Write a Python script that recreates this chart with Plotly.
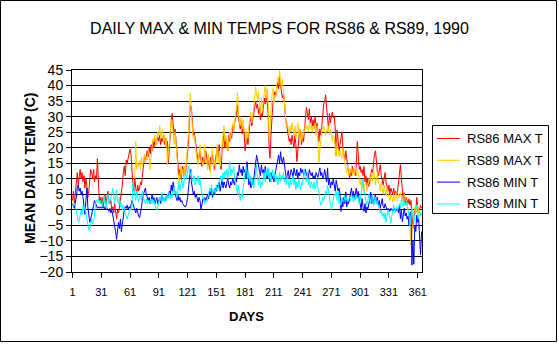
import plotly.graph_objects as go

# ---- data -----------------------------------------------------------------
DAYS = list(range(1, 366))
DAY_TICKS = [1, 31, 61, 91, 121, 151, 181, 211, 241, 271, 301, 331, 361]
Y_TICKS = [-20, -15, -10, -5, 0, 5, 10, 15, 20, 25, 30, 35, 40, 45]

SERIES_NAMES = ["RS86 MAX T", "RS89 MAX T", "RS86 MIN T", "RS89 MIN T"]
SERIES_COLORS = ["#FF0000", "#FFCC00", "#0000FF", "#00FFFF"]

RS86_MAX = [
    3, 6, 2, 5, 9, 12, 8, 11, 13, 10,
    12, 9, 11, 7, 10, 8, 4, 6, 11, 13,
    12, 10, 13, 9, 11, 10, 16.5, 7, 3, 4,
    2, 4, 1, 3, 5, 2, 4, 6, 3, 2,
    3, 0, 1, -1, 2, -2, -3, 0, -1, 1,
    3, 5, 8, 12, 14, 11, 16, 15, 17, 18,
    19.5, 18, 12, 8, 6, 10, 7, 5, 8, 6,
    7, 9, 8, 12, 15, 17, 16, 18, 19, 17,
    20, 18, 21, 19, 22, 20, 23, 21, 22, 23.5,
    22, 24, 21, 23, 22, 24, 21, 23, 20, 22,
    15, 20, 25, 29, 31, 27, 24, 26, 22, 19,
    15, 11, 13, 10, 12, 14, 11, 13, 12, 15,
    18, 22, 30, 33.5, 33, 28, 24, 25, 23, 21,
    18, 15.5, 17, 19, 16, 14, 17, 15, 16, 19,
    17, 14, 16, 13, 17, 15, 18, 16, 13, 16,
    18, 20, 17, 21, 16, 13, 19, 22, 25, 20,
    23, 21, 19, 24, 22, 25, 23, 27, 25, 28,
    29, 31, 33.7, 30, 28, 26, 29, 24.5, 27, 25,
    19, 22, 24, 21, 26, 28, 30, 27, 29, 31,
    33, 35, 32.7, 34, 31, 33, 29, 31, 30, 33,
    36, 34, 37, 35, 31, 20, 16.6, 24, 30, 34,
    36, 38, 37, 40, 41, 39, 43, 40, 38, 36,
    37, 35, 30, 27, 26, 24, 22, 23, 21, 24,
    22, 20, 24, 21, 15.5, 19, 22, 26, 23, 21,
    24, 22, 26, 30, 33, 31, 29, 32.5, 28, 30,
    27, 29, 26, 30, 25, 28, 24, 22, 26, 24,
    27, 31, 34, 35, 37, 33, 29, 26, 31, 28,
    30, 31.5, 29.5, 30, 26, 17.5, 25.7, 22, 19, 21,
    24, 25, 20, 18, 16, 19, 15, 14, 12, 10,
    13, 11, 14, 12, 13, 11, 15, 22, 18, 13,
    14, 12, 13, 11, 14, 9, 11, 8, 10, 7.5,
    9, 11, 13, 12, 16, 18, 19, 14, 12, 11,
    13, 14.5, 11, 9, 8, 10, 12, 9, 7, 6,
    8, 5, 7, 6, 5, 7, 5, 6, 4.7, 6,
    9, 11, 14.6, 10, 5, 3, 5.5, 2, 4, 3,
    2, 3.5, 1.5, 3, -2, -6, -3, 0, -1, 4,
    1, -1, 0, 1.5, 0.5,
]

# RS89 max readings begin on day 66
RS89_MAX = [None] * 65 + [
    10, 22, 13, 15, 14,
    16, 13, 17, 14, 16, 18, 15, 17, 16, 19,
    18, 13, 17, 21, 23, 22, 24, 21, 23, 25,
    24, 27, 23, 25, 26, 22, 24, 21, 23, 14.5,
    18, 23, 26, 29, 28, 24, 21, 25, 19, 17,
    12, 8.5, 10, 14, 11, 13, 10, 14, 12, 16,
    20, 25, 32, 37.5, 31, 27, 23, 24, 21, 19,
    16, 14.5, 18, 21, 17, 15, 14.5, 16, 21, 15,
    16, 13, 18, 15, 12, 17, 20, 14, 16, 13,
    18, 21, 15, 19, 14, 17, 20, 25, 27, 22,
    24, 20, 19, 22, 25, 23, 26, 28, 25, 29,
    30.5, 33, 38, 31, 28, 27, 30, 26, 29, 25,
    26, 22, 25, 23, 27, 29, 31.5, 28, 30, 33,
    36, 39.6, 37, 35, 38, 34, 31, 36, 32, 35,
    38, 40, 36, 39, 35, 23, 26, 32, 37, 39,
    34, 37, 36, 40, 42.5, 41, 45, 41, 39, 42,
    38, 36, 30, 27, 28, 26, 24, 27, 25, 28,
    26, 24, 27, 23, 25, 28, 24, 26, 22, 25,
    23, 26, 25, 28, 26, 27, 25, 28, 26, 27,
    25, 27, 26, 28, 24, 27, 22, 15, 19, 24,
    26, 25, 27, 26, 24, 26, 25, 27, 24, 26,
    25, 22, 24, 23, 19, 17.5, 22, 20, 17, 19,
    18, 16.5, 20, 17, 14, 13, 12, 14.5, 11, 13,
    12, 14, 11, 13, 12, 14, 11, 13, 12, 10,
    8, 10, 7, 9, 6, 8, 9, 6, 7.5, 9,
    11, 10, 12, 9, 13, 11, 8, 10, 12, 9,
    8, 6, 9, 7, 5, 8, 6, 4.5, 7, 5,
    4, 3, 5, 4, 2.5, 5, 3, 5.5, 4, 3,
    5, 4, 5.5, 4, 3, 2.5, 5, 4, 3, 2,
    0, -2, -6, -11.3, -9, -4, -1, 1, -1, 0.5,
    1.5, -1, 0, -1.7, -1,
]

RS86_MIN = [
    2, 1, 0.5, 2.5, 4, 7, 8, 6, 7, 5,
    6, 4, 2, -1.5, 3, 7, 1, -2, -4, -3,
    -1, -0.5, 1.5, 3, 2, 1, 0.5, 1, 0.5, 1,
    0.5, 1, 0.5, 1, 0, 1, 0.5, 0, -0.5, 0.5,
    -1, 0, -1.5, -3, -5, -7, -9.5, -6, -4, -6,
    -3, -7, -4, -1, 0, 1, 0.5, 1.5, 0, 1,
    0.5, 1.5, 3, 2, 1, 0, -1, 0.5, -1.5, -2,
    -2.5, -1, 1, 3, 5, 6, 7, 5, 4, 3,
    4, 2, 3, 5, 3, 4, 2, 3, 4, 2,
    3, 4, 2, 5, 3, 4, 2.5, 4, 3, 5,
    4, 6, 5, 8, 6, 9, 7, 5, 4, 3,
    5, 3, 4, 2.5, 3, 2, 1.5, 1, 1, 2,
    4, 7, 10, 13, 9, 7, 5, 6, 4, 5,
    3, 2.5, 4, 3, 0, 2, 3.5, 3, 4, 3,
    4, 5, 3.5, 6, 5, 7, 4, 6, 5, 7,
    6, 8, 7, 9, 6, 8, 10, 7, 9, 8,
    7, 9, 10, 8, 7, 9, 8, 10, 9, 8,
    10, 9, 12, 11, 14.5, 12, 13, 11, 14, 12,
    13, 10, 15.5, 11, 8, 10, 7, 9, 8, 10,
    12, 15, 17.6, 16, 14, 13, 11, 14.5, 12, 13,
    11, 14, 12, 10, 13, 11, 9, 12, 10, 11,
    9, 11, 13, 15, 16, 17.6, 15, 18.7, 16, 15,
    17, 14.5, 12, 10, 11, 12.7, 10, 11, 13, 12,
    10, 13.5, 12, 11, 13, 10, 12, 11, 13.4, 12,
    13, 11, 12, 13, 11, 12, 10, 13, 12, 11,
    12, 10, 11, 10, 12, 11, 10.5, 12, 13.5, 11,
    12, 10, 11, 13, 10, 9, 13.5, 8, 10, 7,
    9, 8, 10, 7, 6, 9.5, 8, 6, 7, 5,
    -0.5, 3, 1, 4, 2, 5.8, 1, 3, 2, 4,
    5, 7, 4, 6, 3.5, 5, 7, 4, 6, 3,
    2, 0, 3.6, 1, -0.5, 2, -1, 1, 0, 2,
    3, 5.7, 2, 4, 1.5, 3, 5, 2, 4, 1.5,
    3, 0.5, 2, 3.6, 1, 0.5, 2, 1, 0, 0.5,
    0, -0.5, 0.5, 0, -0.5, 0, 0.5, -0.5, 0, 0.5,
    -1, 1.5, -2.8, 0, -3.8, -1, 0.5, -2, -1, -3,
    -2, -4.9, -1, -0.6, -17.8, -10, -17.5, -5, -7, -1.7,
    -4, -3, -8, -14.5, -7,
]

RS89_MIN = [
    2, 1.5, 2, 1, 0, -2, -4, -3.5, -2, 0,
    -1.5, 1.5, 0, 1, -1, -3, -5, -6.5, -6, -4,
    -3, -4.5, -3.5, -2, 2, 3, 2.5, 3.5, 2, 3,
    2, 1, 3, 4.5, 2, 0.5, 3, 5, 2, 3,
    4, 5, 7, 3, 2, 4, 6.5, 3, 2, 4,
    1, 2, 0, 1.5, 0, -1, -2, -3, -2, -1,
    0.5, 0, 1, 9, 7, 5, 3, 6, 4, 2.5,
    4, 5, 3, 6, 4, 3, 2, 3.5, 2, 3,
    2.5, 3, 2, 3.5, 2, 3, 1, 0.5, 0, 1,
    2.5, 4, 3, 5.5, 3, 4, 2.5, 4.5, 3, 5,
    4, 5.5, 3.5, 5, 4, 6, 7, 5, 6, 4,
    7, 9, 6, 8, 10, 7, 9, 11, 12, 10,
    13, 14, 12, 11, 13, 9, 10, 11, 8, 10,
    9, 11, 8, 10, 7, 5, 3.5, 4, 2, 3,
    2.5, 3.5, 5, 7, 6, 8, 5, 6, 7, 5,
    8, 6, 7, 9, 10, 11, 9, 12, 10, 12.5,
    11, 13, 10, 12, 15.5, 11, 13, 12, 14, 11,
    9, 7, 5, 8, 6, 3, 5, 4, 7, 9,
    11, 14, 12, 10, 12, 9, 11, 8, 10, 7,
    9, 12, 14.5, 10, 8, 11, 7, 9, 8, 10,
    12, 9, 13, 11, 13.5, 10, 12, 9, 11, 13,
    10, 12, 9, 11, 8, 10, 12, 9, 11, 10,
    12, 9, 10, 8, 11, 9, 7, 10, 8, 9,
    11, 8, 10, 6.5, 9, 7, 10, 8, 6.5, 9,
    8, 11, 13, 10, 9, 12, 8, 10, 7, 9,
    8, 7, 9, 6.5, 8, 10, 7, 6, 3, 1.5,
    2, 4, 3, 4.7, 6, 5, 8, 6, 4, 3.5,
    0, 2, 4, 5, 4.5, 6, 3, 5.8, 2, 3,
    1.5, 4, 3, 2.5, 4.7, 3, 4, 2.5, 3.5, 4,
    3, 5, 4, 2.5, 4, 3, 5, 3.5, 4, 2,
    3, 5, 7, 10, 6, 4, 3, 1.5, 3, 5,
    4, 2, 3, 5, 1.5, 3, 4, 2, 3, 1,
    0.5, -1, 0, -2, -1, -3, -1, -4, -2, 0,
    -1, -3, -4.3, -2, 0, 1.5, -1, 0.5, 1, 0,
    1, 2, 0.5, 3.6, 2, 1, 3, 1.5, 2.5, 1,
    0, -2, -5, -3, 0.5, -1, -4, -2, 0, 1.5,
    -1, -3, 0, -2, -1,
]

SERIES_VALUES = [RS86_MAX, RS89_MAX, RS86_MIN, RS89_MIN]
for vals in SERIES_VALUES:
    assert len(vals) == len(DAYS), len(vals)

# ---- geometry (pixels) ----------------------------------------------------
W, H = 559, 345
ML, MR, MT, MB = 72, 137, 70, 73
PW = W - ML - MR
PH = H - MT - MB
FONT = "Liberation Sans, Arial, Helvetica, sans-serif"


def fx(px):
    """pixel x -> paper x"""
    return (px - ML) / PW


def fy(py):
    """pixel y (from top) -> paper y"""
    return (H - MB - py) / PH


fig = go.Figure()
for name, vals, color in zip(SERIES_NAMES, SERIES_VALUES, SERIES_COLORS):
    fig.add_trace(go.Scatter(
        x=DAYS, y=vals, name=name, mode="lines",
        line=dict(color=color, width=1),
        connectgaps=False, showlegend=False, hoverinfo="skip",
    ))

shapes = []
annotations = []

# outer chart border
shapes.append(dict(type="rect", xref="paper", yref="paper",
                   x0=fx(0.5), x1=fx(556.5), y0=fy(341.5), y1=fy(0.5),
                   line=dict(color="black", width=1)))

# legend box with line samples and labels
LEG_X0, LEG_X1, LEG_Y0, LEG_Y1 = 432.5, 548.5, 125.5, 213.5
shapes.append(dict(type="rect", xref="paper", yref="paper",
                   x0=fx(LEG_X0), x1=fx(LEG_X1), y0=fy(LEG_Y1), y1=fy(LEG_Y0),
                   line=dict(color="black", width=1), fillcolor="white"))
for i, (name, color) in enumerate(zip(SERIES_NAMES, SERIES_COLORS)):
    row_y = 138.5 + i * 21.8
    shapes.append(dict(type="line", xref="paper", yref="paper",
                       x0=fx(437), x1=fx(460), y0=fy(row_y), y1=fy(row_y),
                       line=dict(color=color, width=1)))
    annotations.append(dict(xref="paper", yref="paper", x=fx(465), y=fy(row_y),
                            xanchor="left", yanchor="middle", showarrow=False,
                            text=name, font=dict(family=FONT, size=13, color="black")))

# axis titles
annotations.append(dict(xref="paper", yref="paper", x=fx(246.5), y=fy(316),
                        xanchor="center", yanchor="middle", showarrow=False,
                        text="<b>DAYS</b>", font=dict(family=FONT, size=13, color="black")))
annotations.append(dict(xref="paper", yref="paper", x=fx(30), y=fy(169),
                        xanchor="center", yanchor="middle", showarrow=False, textangle=-90,
                        text="<b>MEAN DAILY TEMP (C)</b>",
                        font=dict(family=FONT, size=14, color="black")))

fig.update_layout(
    width=W, height=H,
    margin=dict(l=ML, r=MR, t=MT, b=MB, pad=0),
    paper_bgcolor="white", plot_bgcolor="white",
    font=dict(family=FONT, color="black"),
    title=dict(text="DAILY MAX & MIN TEMPS FOR RS86 & RS89, 1990",
               x=0.5, xanchor="center", y=1 - 28 / H, yanchor="middle",
               font=dict(family=FONT, size=16, color="black")),
    shapes=shapes,
    annotations=annotations,
    showlegend=False,
)

fig.update_xaxes(
    range=[0.5, 365.5], tickvals=DAY_TICKS, ticktext=[str(t) for t in DAY_TICKS],
    ticks="outside", ticklen=5, tickcolor="black", tickwidth=1,
    ticklabelstandoff=5,
    showline=True, linecolor="black", linewidth=1, mirror=True,
    showgrid=False, zeroline=False,
    tickfont=dict(family=FONT, size=11, color="black"),
)
fig.update_yaxes(
    range=[-20, 45], tickvals=Y_TICKS,
    ticks="outside", ticklen=5, tickcolor="black", tickwidth=1,
    showline=True, linecolor="black", linewidth=1, mirror=True,
    showgrid=True, gridcolor="black", gridwidth=1, zeroline=False,
    tickfont=dict(family=FONT, size=14, color="black"),
)

fig.write_html("out.html")
